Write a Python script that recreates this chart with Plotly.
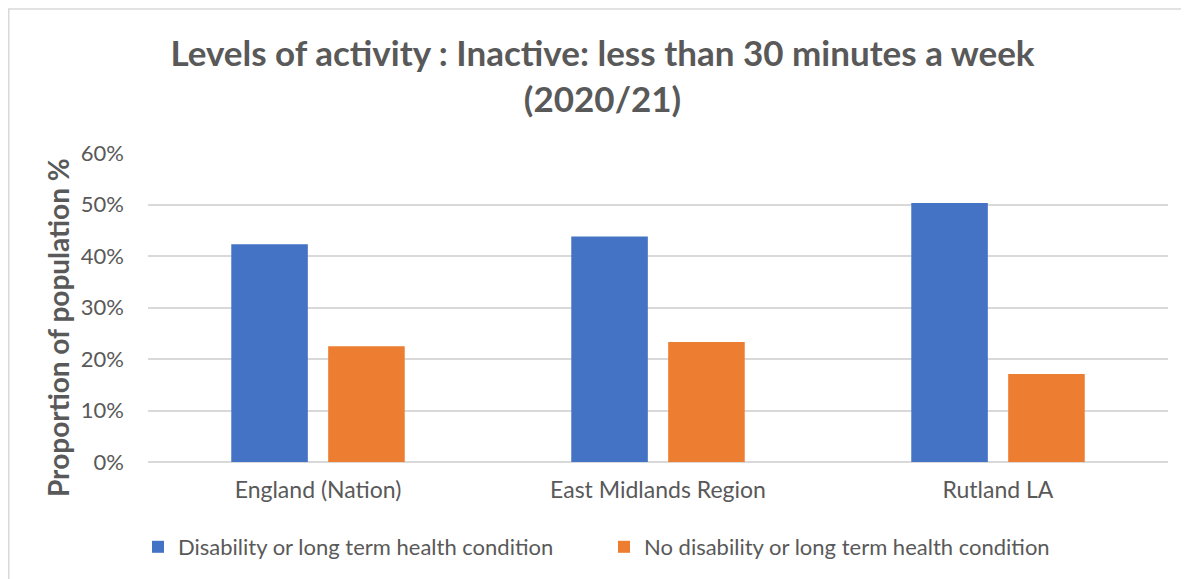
import plotly.graph_objects as go

categories = ["England (Nation)", "East Midlands Region", "Rutland LA"]
disability = [0.423, 0.438, 0.503]
no_disability = [0.225, 0.233, 0.171]
series_names = ["Disability or long term health condition",
                "No disability or long term health condition"]
y_ticks = [0, 0.1, 0.2, 0.3, 0.4, 0.5, 0.6]

FONT = "Lato"
GREY = "#595959"
W, H = 1189, 579
L, R, T, B = 140, 29, 145, 125
PW, PH = W - L - R, H - T - B

fig = go.Figure()
fig.add_trace(go.Bar(x=categories, y=disability, name=series_names[0],
                     marker=dict(color="#4472C4", line=dict(width=0)),
                     legend="legend"))
fig.add_trace(go.Bar(x=categories, y=no_disability, name=series_names[1],
                     marker=dict(color="#ED7D31", line=dict(width=0)),
                     legend="legend2"))

leg_common = dict(orientation="h", xanchor="left", yanchor="middle", yref="container",
                  y=(H - 539) / H, font=dict(family=FONT, size=22, color=GREY),
                  itemwidth=30, bgcolor="rgba(0,0,0,0)")

fig.update_layout(
    width=W, height=H,
    margin=dict(l=L, r=R, t=T, b=B, autoexpand=False),
    paper_bgcolor="white", plot_bgcolor="white",
    barmode="group", bargap=0.43, bargroupgap=0.21,
    font=dict(family=FONT, color=GREY, size=17),
    title=dict(text="<b>Levels of activity : Inactive: less than 30 minutes a week<br>(2020/21)</b>",
               x=0.5, xanchor="center", xref="container",
               y=1 - 58 / H, yanchor="top", yref="container",
               font=dict(family=FONT, size=35, color=GREY)),
    showlegend=True,
    legend=dict(x=-10 / PW, **leg_common),
    legend2=dict(x=(596 - L) / PW, **leg_common),
    xaxis=dict(showgrid=False, showline=False, ticks="", automargin=False,
               ticklabelstandoff=12,
               tickfont=dict(size=23, color=GREY)),
    yaxis=dict(range=[0, 0.6], tickvals=y_ticks, tickformat=".0%",
               showgrid=True, gridcolor="#d9d9d9", gridwidth=1.5,
               zeroline=True, zerolinecolor="#d9d9d9", zerolinewidth=1.5,
               ticks="", ticklabelstandoff=23, automargin=False,
               tickfont=dict(size=22, color=GREY)),
    shapes=[dict(type="rect", xref="paper", yref="paper",
                 x0=(0.75 - L) / PW, x1=1.2, y0=-0.6, y1=1 + (T - 1) / PH,
                 line=dict(color="#d9d9d9", width=1.5))],
    annotations=[dict(text="<b>Proportion of population %</b>", textangle=-90,
                      xref="paper", yref="paper", x=(50 - L) / PW,
                      y=(T + PH - (328 - 8)) / PH,
                      xanchor="center", yanchor="middle", showarrow=False,
                      font=dict(family=FONT, size=28, color=GREY))],
)

fig.write_html("out.html")
